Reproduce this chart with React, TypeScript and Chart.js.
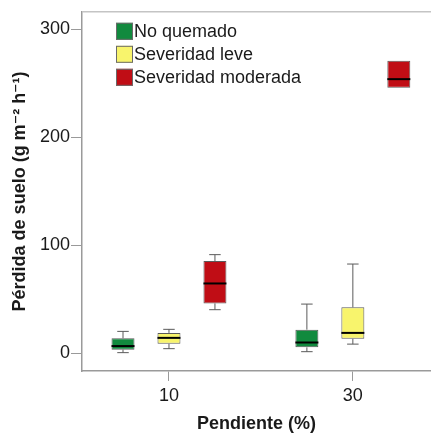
import React, { useEffect, useRef } from "react";
import { Chart, registerables } from "chart.js";

Chart.register(...registerables);

// Pendiente (%) categories
const categories = [10, 30];
const seriesLabels = ["No quemado", "Severidad leve", "Severidad moderada"];
const seriesColors = ["#118a3e", "#f8f46c", "#c00d15"];

// Box plot statistics per series: [at 10%, at 30%]
const noQuemadoMin = [0.6, 1.5];
const noQuemadoQ1 = [3.4, 5.5];
const noQuemadoMedian = [6.7, 10.0];
const noQuemadoQ3 = [13.9, 21.9];
const noQuemadoMax = [20.3, 45.6];

const leveMin = [4.3, 8.5];
const leveQ1 = [8.8, 13.4];
const leveMedian = [14.3, 18.9];
const leveQ3 = [18.9, 42.6];
const leveMax = [22.2, 82.7];

const moderadaMin = [40.4, 246];
const moderadaQ1 = [46.2, 246];
const moderadaMedian = [64.7, 254];
const moderadaQ3 = [85.4, 271];
const moderadaMax = [91.4, 271];

const yTicks = [0, 100, 200, 300];
const xTicks = [10, 30];

const stats = [
  { min: noQuemadoMin, q1: noQuemadoQ1, med: noQuemadoMedian, q3: noQuemadoQ3, max: noQuemadoMax },
  { min: leveMin, q1: leveQ1, med: leveMedian, q3: leveQ3, max: leveMax },
  { min: moderadaMin, q1: moderadaQ1, med: moderadaMedian, q3: moderadaQ3, max: moderadaMax },
];

const FONT = "'Liberation Sans', Arial, 'DejaVu Sans', sans-serif";
const TEXT = "#1a1a1a";
const AXIS = "#9a9a9a";

const boxPlugin = {
  id: "boxWhiskers",
  afterDatasetsDraw(chart: any) {
    const ctx = chart.ctx;
    const yScale = chart.scales.y;
    ctx.save();
    stats.forEach((s, d) => {
      const meta = chart.getDatasetMeta(d);
      meta.data.forEach((bar: any, i: number) => {
        const x = bar.x;
        const w = bar.width;
        const yMin = yScale.getPixelForValue(s.min[i]);
        const yQ1 = yScale.getPixelForValue(s.q1[i]);
        const yQ3 = yScale.getPixelForValue(s.q3[i]);
        const yMax = yScale.getPixelForValue(s.max[i]);
        const yMed = yScale.getPixelForValue(s.med[i]);
        ctx.strokeStyle = "#5a5a5a";
        ctx.lineWidth = 1;
        ctx.beginPath();
        if (s.max[i] > s.q3[i]) {
          ctx.moveTo(x, yQ3);
          ctx.lineTo(x, yMax);
          ctx.moveTo(x - w / 4, yMax);
          ctx.lineTo(x + w / 4, yMax);
        }
        if (s.min[i] < s.q1[i]) {
          ctx.moveTo(x, yQ1);
          ctx.lineTo(x, yMin);
          ctx.moveTo(x - w / 4, yMin);
          ctx.lineTo(x + w / 4, yMin);
        }
        ctx.stroke();
        ctx.strokeStyle = "#000";
        ctx.lineWidth = 2;
        ctx.beginPath();
        ctx.moveTo(x - w / 2, yMed);
        ctx.lineTo(x + w / 2, yMed);
        ctx.stroke();
      });
    });
    ctx.restore();
  },
  afterDraw(chart: any) {
    const ctx = chart.ctx;
    const a = chart.chartArea;
    ctx.save();
    // top frame line
    ctx.strokeStyle = "#c4c4c4";
    ctx.lineWidth = 1.5;
    ctx.beginPath();
    ctx.moveTo(a.left, a.top);
    ctx.lineTo(a.right, a.top);
    ctx.stroke();
    // legend inside chart area
    const size = 17;
    const x0 = a.left + 34;
    let y0 = a.top + 11;
    ctx.font = `18px ${FONT}`;
    ctx.textBaseline = "middle";
    ctx.textAlign = "left";
    seriesLabels.forEach((lab, k) => {
      ctx.fillStyle = seriesColors[k];
      ctx.fillRect(x0, y0, size, size);
      ctx.strokeStyle = "#6a6a6a";
      ctx.lineWidth = 1;
      ctx.strokeRect(x0 + 0.5, y0 + 0.5, size - 1, size - 1);
      ctx.fillStyle = TEXT;
      ctx.fillText(lab, x0 + size + 1, y0 + size / 2 + 1);
      y0 += 23;
    });
    ctx.restore();
  },
};

export default function App() {
  const ref = useRef<HTMLCanvasElement | null>(null);
  useEffect(() => {
    if (!ref.current) return;
    const datasets = stats.map((s, d) => ({
      label: seriesLabels[d],
      data: categories.map((c, i) => ({ x: c, y: [s.q1[i], s.q3[i]] })),
      backgroundColor: seriesColors[d],
      borderColor: "#5a5a5a",
      borderWidth: 1,
      borderSkipped: false,
      categoryPercentage: 0.75,
      barPercentage: 0.5,
    }));
    const chart = new Chart(ref.current, {
      type: "bar",
      data: { datasets } as any,
      plugins: [boxPlugin],
      options: {
        animation: false,
        responsive: false,
        devicePixelRatio: 1,
        layout: { padding: { top: 6, left: 0, right: 0, bottom: 0 } },
        plugins: { legend: { display: false }, tooltip: { enabled: false } },
        scales: {
          x: {
            type: "linear",
            offset: false,
            min: 0.54,
            max: 38.5,
            afterBuildTicks: (scale: any) => {
              scale.ticks = xTicks.map((v) => ({ value: v }));
            },
            afterFit: (scale: any) => {
              scale.height = 65;
            },
            border: { display: true, color: AXIS, width: 1.5 },
            grid: { offset: false, drawOnChartArea: false, drawTicks: true, tickLength: 10, color: AXIS, lineWidth: 1 },
            ticks: { color: TEXT, font: { size: 18, family: FONT }, padding: 4 },
            title: {
              display: true,
              text: "Pendiente (%)",
              color: TEXT,
              font: { size: 18, weight: "bold", family: FONT },
              padding: { top: 0, bottom: 1 },
            },
          },
          y: {
            type: "linear",
            min: -16.4,
            max: 316.4,
            afterBuildTicks: (scale: any) => {
              scale.ticks = yTicks.map((v) => ({ value: v }));
            },
            afterFit: (scale: any) => {
              scale.width = 82;
            },
            border: { display: true, color: AXIS, width: 1.5 },
            grid: { drawOnChartArea: false, drawTicks: true, tickLength: 11, color: AXIS, lineWidth: 1 },
            ticks: { color: TEXT, font: { size: 18, family: FONT }, padding: 1 },
            title: {
              display: true,
              text: "Pérdida de suelo (g m⁻² h⁻¹)",
              color: TEXT,
              font: { size: 18, weight: "bold", family: FONT },
              padding: { top: 9, bottom: 0 },
            },
          },
        },
      } as any,
    });
    return () => chart.destroy();
  }, []);
  return (
    <div style={{ position: "absolute", left: 0, top: 0, width: 431, height: 436, background: "#fff" }}>
      <canvas ref={ref} width={431} height={436} style={{ display: "block", width: 431, height: 436 }} />
    </div>
  );
}
